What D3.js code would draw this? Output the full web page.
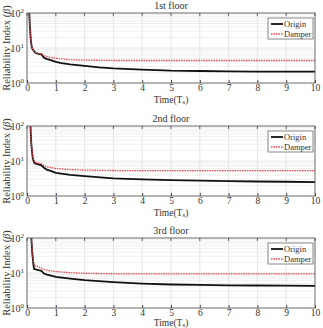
<!DOCTYPE html>
<html><head><meta charset="utf-8">
<script src="https://cdn.jsdelivr.net/npm/d3@7"></script>
<style>body{margin:0;background:#fff}svg{display:block}text{font-family:"Liberation Serif","Times New Roman",serif;fill:#333}</style>
</head><body><svg id="c" width="323" height="328"></svg>
<script>
const titles = ["1st floor", "2nd floor", "3rd floor"];
const seriesNames = ["Origin", "Damper"];
const xTicks = [0,1,2,3,4,5,6,7,8,9,10];
const yTicks = [1, 10, 100];

const x1 = [0.08,0.1,0.13,0.16,0.2,0.25,0.3,0.4,0.5,0.55,0.6,0.7,0.8,1,1.2,1.5,2,2.5,3,4,5,6,7,8,9,10];
const origin1 = [100,40,18,11,9,8,7.2,6.8,6.6,5.8,5.2,4.8,4.6,4.0,3.7,3.4,3.1,2.8,2.6,2.4,2.25,2.2,2.15,2.1,2.1,2.1];
const damper1 = [100,40,18,11,9,8,7.4,7.0,6.8,6.5,6.0,5.7,5.4,5.1,4.9,4.6,4.5,4.45,4.4,4.4,4.4,4.4,4.4,4.4,4.4,4.4];

const x2 = [0.12,0.15,0.2,0.25,0.3,0.4,0.5,0.6,0.7,0.8,1,1.5,2,3,4,5,6,7,8,9,10];
const origin2 = [100,30,12,9,8.4,8,7.5,6.3,5.6,5.3,4.6,4.0,3.7,3.2,3.0,2.85,2.75,2.65,2.6,2.55,2.5];
const damper2 = [100,30,13,10,9,8.7,8.4,7.3,6.8,6.6,6.1,5.7,5.5,5.35,5.3,5.3,5.3,5.3,5.3,5.3,5.3];

const x3 = [0.15,0.18,0.22,0.25,0.3,0.4,0.5,0.6,0.7,0.8,1,1.5,2,3,4,5,6,7,8,9,10];
const origin3 = [100,40,18,13,12.6,12,11.5,9.5,9,8.6,7.7,6.9,6.3,5.5,5.0,4.7,4.55,4.45,4.4,4.35,4.3];
const damper3 = [100,45,22,17,16,15,13.5,12.5,12,11.5,11,10.2,9.8,9.5,9.4,9.4,9.4,9.4,9.4,9.4,9.4];

const panels = [
  {title: titles[0], x: x1, s: [origin1, damper1]},
  {title: titles[1], x: x2, s: [origin2, damper2]},
  {title: titles[2], x: x3, s: [origin3, damper3]}
];

const svg = d3.select("#c");
const L = 27, R = 315, H = 70, tops = [13, 126, 238];
const colors = ["#111", "#e8484f"];

panels.forEach((p, i) => {
  const top = tops[i], bot = top + H;
  const x = d3.scaleLinear().domain([0,10]).range([L,R]);
  const y = d3.scaleLog().domain([1,100]).range([bot, top]);
  const g = svg.append("g");
  const cid = "clip" + i;
  g.append("clipPath").attr("id", cid).append("rect").attr("x", L).attr("y", top).attr("width", R-L).attr("height", H);
  // grid
  const minor = [];
  for (let d = 1; d < 100; d *= 10) for (let k = 2; k <= 9; k++) minor.push(d*k);
  g.selectAll(".mg").data(minor).join("line").attr("x1", L).attr("x2", R)
    .attr("y1", d => y(d)).attr("y2", d => y(d)).attr("stroke", "#e6e6e6").attr("stroke-width", 0.6);
  g.selectAll(".yg").data([10]).join("line").attr("x1", L).attr("x2", R)
    .attr("y1", d => y(d)).attr("y2", d => y(d)).attr("stroke", "#dcdcdc").attr("stroke-width", 0.7);
  g.selectAll(".xg").data(xTicks.slice(1,-1)).join("line").attr("y1", top).attr("y2", bot)
    .attr("x1", d => x(d)).attr("x2", d => x(d)).attr("stroke", "#dcdcdc").attr("stroke-width", 0.7);
  // lines
  const line = d3.line().x((d, j) => x(p.x[j])).y(d => y(d));
  p.s.forEach((vals, k) => {
    g.append("path").datum(vals).attr("clip-path", `url(#${cid})`).attr("fill", "none")
      .attr("stroke", colors[k]).attr("stroke-width", k === 0 ? 1.8 : 1.3)
      .attr("stroke-dasharray", k === 1 ? "1.5,1" : null).attr("d", line);
  });
  // box
  g.append("rect").attr("x", L).attr("y", top).attr("width", R-L).attr("height", H)
    .attr("fill", "none").attr("stroke", "#444").attr("stroke-width", 0.8);
  // x ticks
  const xa = g.append("g").attr("transform", `translate(0,${bot})`)
    .call(d3.axisBottom(x).tickValues(xTicks).tickSize(-3).tickPadding(1).tickFormat(d3.format("d")));
  xa.select(".domain").remove();
  xa.selectAll("line").attr("stroke", "#444");
  xa.selectAll("text").attr("font-size", 9.5).attr("fill", "#333").attr("font-family", "Liberation Serif");
  // top ticks
  g.selectAll(".tt").data(xTicks).join("line").attr("x1", d => x(d)).attr("x2", d => x(d))
    .attr("y1", top).attr("y2", top + 3).attr("stroke", "#444").attr("stroke-width", 0.8);
  // y ticks labels
  yTicks.forEach(v => {
    const t = g.append("text").attr("x", L - 3).attr("y", y(v) + 4).attr("text-anchor", "end").attr("font-size", 10);
    t.append("tspan").text("10");
    t.append("tspan").attr("font-size", 7).attr("dy", -4).text(Math.round(Math.log10(v)));
  });
  // title
  g.append("text").attr("x", (L+R)/2).attr("y", top - 4).attr("text-anchor", "middle").attr("font-size", 10).text(p.title);
  // x label
  const xl = g.append("text").attr("x", (L+R)/2).attr("y", Math.min(bot + 19.5, 326)).attr("text-anchor", "middle").attr("font-size", 9.5);
  xl.append("tspan").text("Time(T");
  xl.append("tspan").attr("font-size", 7).attr("dy", 1).text("s");
  xl.append("tspan").attr("dy", -1).text(")");
  // y label
  const yl = g.append("text").attr("transform", `translate(10,${top + H/2}) rotate(-90)`)
    .attr("text-anchor", "middle").attr("font-size", 10.5);
  yl.append("tspan").text("Reliability Index (");
  yl.append("tspan").attr("font-style", "italic").text("β");
  yl.append("tspan").text(")");
  // legend
  const lg = g.append("g").attr("transform", `translate(268,${top + 5})`);
  lg.append("rect").attr("width", 45).attr("height", 21).attr("fill", "#fff").attr("stroke", "#555").attr("stroke-width", 0.7);
  seriesNames.forEach((n, k) => {
    const yy = 6 + k * 10;
    lg.append("line").attr("x1", 3).attr("x2", 15).attr("y1", yy).attr("y2", yy)
      .attr("stroke", colors[k]).attr("stroke-width", k === 0 ? 1.8 : 1.3)
      .attr("stroke-dasharray", k === 1 ? "1.5,1" : null);
    lg.append("text").attr("x", 16).attr("y", yy + 3).attr("font-size", 8.5).text(n);
  });
});
</script></body></html>
